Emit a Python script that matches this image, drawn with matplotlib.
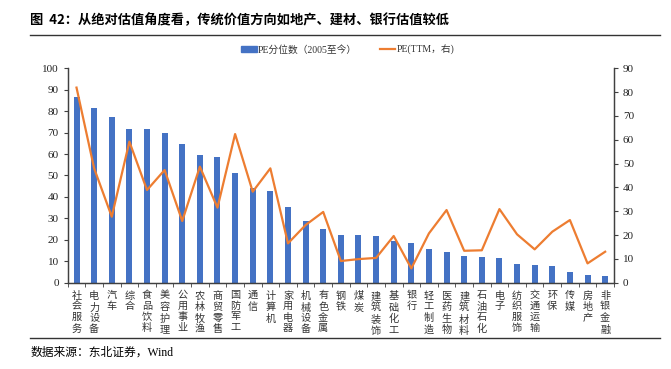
import numpy as np
import matplotlib
matplotlib.use('Agg')
import matplotlib.pyplot as plt
from matplotlib.lines import Line2D
from matplotlib.patches import Patch

plt.rcParams['font.family'] = ['Liberation Serif', 'Noto Sans CJK SC', 'DejaVu Sans']

categories = ['社会服务', '电力设备', '汽车', '综合', '食品饮料', '美容护理', '公用事业',
              '农林牧渔', '商贸零售', '国防军工', '通信', '计算机', '家用电器', '机械设备',
              '有色金属', '钢铁', '煤炭', '建筑装饰', '基础化工', '银行', '轻工制造',
              '医药生物', '建筑材料', '石油石化', '电子', '纺织服饰', '交通运输', '环保',
              '传媒', '房地产', '非银金融']
pe_pct = [86.6, 81.3, 77.1, 71.9, 71.5, 69.7, 64.5, 59.4, 58.5, 51.2, 44.2, 42.8, 35.2,
          28.8, 24.9, 22.4, 22.2, 21.8, 19.3, 18.7, 15.9, 14.2, 12.4, 12.0, 11.5, 8.7,
          8.4, 7.6, 4.8, 3.6, 3.3]
pe_ttm = [81.9, 48.0, 27.7, 59.2, 38.9, 47.3, 25.9, 48.7, 31.5, 62.4, 38.2, 48.0, 16.5,
          24.2, 29.7, 9.1, 9.9, 10.4, 19.6, 6.0, 20.7, 30.5, 13.4, 13.6, 30.9, 20.3,
          14.0, 21.4, 26.3, 8.1, 13.0]

blue = '#4472C4'
orange = '#ED7D31'
axis_col = '#404040'

fig = plt.figure(figsize=(6.71, 3.69), dpi=100)
ax = fig.add_axes([0.1009, 0.2339, 0.8141, 0.581])
ax2 = ax.twinx()

x = np.arange(len(categories))
ax.bar(x, pe_pct, width=0.34, color=blue, zorder=2)
ax2.plot(x, pe_ttm, color=orange, lw=1.6, zorder=3)
ax.set_zorder(1)
ax2.set_zorder(2)
ax.patch.set_visible(False)

ax.set_xlim(-0.5, len(categories) - 0.5)
ax.set_ylim(0, 100)
ax2.set_ylim(0, 90)
ax.set_yticks(range(0, 101, 10))
ax2.set_yticks(range(0, 91, 10))

# category labels stacked vertically, tick marks between categories
ax.set_xticks(x)
ax.set_xticklabels(['\n'.join(c) for c in categories], fontsize=7.3, linespacing=1.2,
                   va='top', color='#333333')
ax.tick_params(axis='x', which='major', length=0, pad=6)
ax.set_xticks(np.arange(-0.5, len(categories), 1), minor=True)
ax.tick_params(axis='x', which='minor', length=3, direction='out', color=axis_col)

for a in (ax, ax2):
    a.spines['top'].set_visible(False)
    for s in ('left', 'right', 'bottom'):
        a.spines[s].set_color(axis_col)
        a.spines[s].set_linewidth(0.9)
    a.tick_params(axis='y', labelsize=8, length=3, color=axis_col, labelcolor='#222222')

# title and rules
fig.text(0.045, 0.945, '图  42：从绝对估值角度看，传统价值方向如地产、建材、银行估值较低',
         fontsize=9.5, fontweight='bold', ha='left', va='center',
         family=['Noto Sans CJK SC'])
fig.add_artist(Line2D([0.045, 0.984], [0.905, 0.905], color='#333333', lw=1.0))
fig.add_artist(Line2D([0.045, 0.984], [0.085, 0.085], color='#333333', lw=1.0))

handles = [Patch(color=blue, label='PE分位数（2005至今）'),
           Line2D([0], [0], color=orange, lw=1.6, label='PE(TTM，右)')]
fig.legend(handles=handles, loc='center', bbox_to_anchor=(0.518, 0.865), ncol=2,
           frameon=False, fontsize=7, handlelength=1.6, handleheight=0.5,
           handletextpad=0.1, columnspacing=2.4, labelcolor='#333333')

fig.text(0.045, 0.045, '数据来源：东北证券，Wind', fontsize=8.5, ha='left', va='center')

fig.savefig('out.png', dpi=100)
